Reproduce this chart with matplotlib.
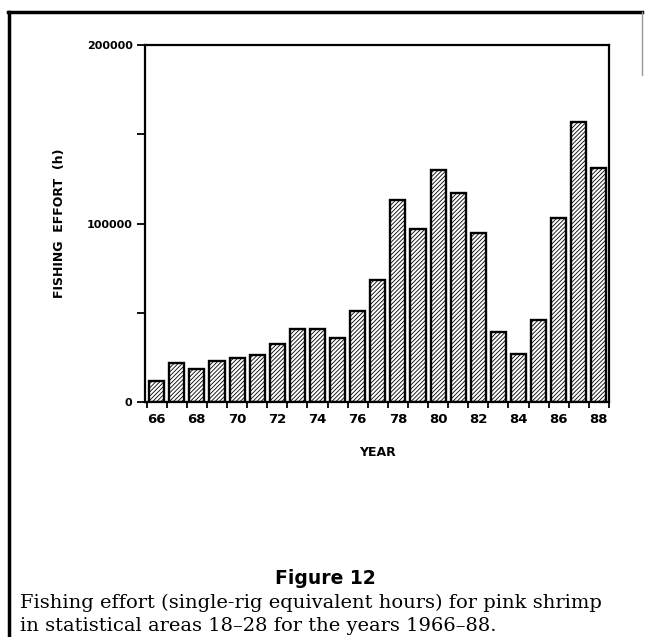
import matplotlib
matplotlib.use("Agg")
import matplotlib.pyplot as plt
import numpy as np
from matplotlib.lines import Line2D

# Fishing effort (h) by year
years = [66, 67, 68, 69, 70, 71, 72, 73, 74, 75, 76, 77,
         78, 79, 80, 81, 82, 83, 84, 85, 86, 87, 88]
effort = [12000, 21700, 18300, 23000, 24500, 26300, 32500, 40700, 41000, 35700, 50900, 68500,
          113300, 97100, 130000, 117100, 94700, 39000, 27000, 46100, 102900, 156600, 131100]
xlabels = ["66", "68", "70", "72", "74", "76", "78", "80", "82", "84", "86", "88"]
ylabels = ["0", "100000", "200000"]

plt.rcParams['hatch.linewidth'] = 0.6
plt.rcParams['font.family'] = 'DejaVu Sans'

fig = plt.figure(figsize=(6.49, 6.37), dpi=100)
ax = fig.add_axes([145/649, 1-402/637, 464/649, 357/637])

ax.bar(years, effort, width=0.75, color='white', edgecolor='black',
       linewidth=1.7, hatch='////////')

ax.set_xlim(65.42, 88.5)
ax.set_ylim(0, 200000)

# x: labels on even years, tick marks between bars
ax.set_xticks([int(s) for s in xlabels])
ax.set_xticklabels(xlabels, fontsize=9.5, fontweight='bold')
ax.set_xticks(np.arange(65.5, 89, 1.0), minor=True)
ax.tick_params(axis='x', which='major', length=0, pad=8)
ax.tick_params(axis='x', which='minor', length=4, width=1.3, direction='out')

ax.set_yticks([int(s) for s in ylabels])
ax.set_yticklabels(ylabels, fontsize=8, fontweight='bold')
ax.set_yticks([50000, 150000], minor=True)
ax.tick_params(axis='y', which='both', length=6, width=1.3, direction='out', pad=3)

for s in ax.spines.values():
    s.set_linewidth(1.6)

ax.set_xlabel('YEAR', fontsize=9, fontweight='bold', labelpad=14)
ax.set_ylabel('FISHING  EFFORT  (h)', fontsize=9, fontweight='bold')
ax.yaxis.set_label_coords(-0.17, 0.5)

# frame around the figure
fig.add_artist(Line2D([8/649, 642/649], [1-12/637, 1-12/637], color='black', lw=2.5))
fig.add_artist(Line2D([9/649, 9/649], [1-12/637, 0], color='black', lw=2.5))
fig.add_artist(Line2D([642/649, 642/649], [1-12/637, 1-75/637], color='#999999', lw=1))

# caption
fig.text(325/649, 1-579/637, 'Figure 12', ha='center', va='center',
         fontsize=13.5, fontweight='bold')
fig.text(20/649, 1-603/637,
         'Fishing effort (single-rig equivalent hours) for pink shrimp',
         ha='left', va='center', fontsize=14, family='DejaVu Serif')
fig.text(20/649, 1-626/637,
         'in statistical areas 18\u201328 for the years 1966\u201388.',
         ha='left', va='center', fontsize=14, family='DejaVu Serif')

fig.savefig('out.png', dpi=100)
